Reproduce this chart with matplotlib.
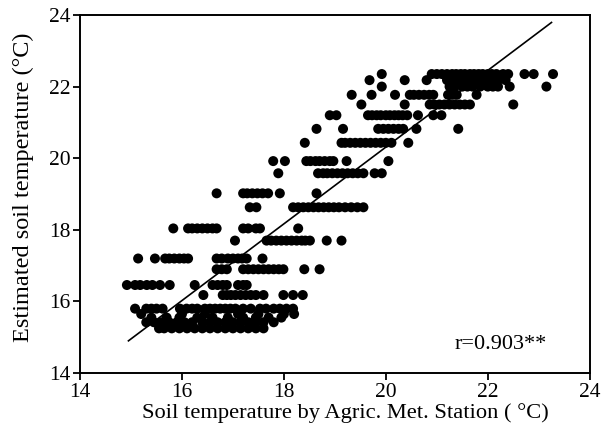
import numpy as np
import matplotlib
matplotlib.use('Agg')
import matplotlib.pyplot as plt

plt.rcParams['font.family'] = ['Liberation Serif', 'DejaVu Serif']

# estimated soil temperature levels (rows) and station readings per row
row_est = [22.35, 22.18, 22.0, 21.77, 21.5, 21.2, 20.82, 20.43, 19.92, 19.58,
           19.02, 18.63, 18.04, 17.7, 17.2, 16.9, 16.46, 16.18, 15.8, 15.65,
           15.55, 15.42, 15.25]
row_station = [
    [19.92, 20.9, 21.0, 21.1, 21.2, 21.3, 21.38, 21.47, 21.55, 21.65, 21.73,
     21.82, 21.9, 22.0, 22.08, 22.17, 22.3, 22.4, 22.72, 22.9, 23.28],
    [19.68, 20.37, 20.8, 21.2, 21.3, 21.45, 21.55, 21.65, 21.78, 21.9, 22.05,
     22.2, 22.35],
    [19.92, 21.25, 21.35, 21.5, 21.6, 21.7, 21.85, 22.0, 22.1, 22.2, 22.43, 23.15],
    [19.33, 19.72, 20.18, 20.47, 20.55, 20.65, 20.75, 20.85, 20.93, 21.22, 21.3,
     21.39, 21.78],
    [19.52, 20.37, 20.86, 20.95, 21.05, 21.15, 21.25, 21.35, 21.45, 21.55, 21.65,
     22.5],
    [18.9, 19.03, 19.65, 19.73, 19.82, 19.9, 20.0, 20.08, 20.17, 20.25, 20.33,
     20.42, 20.63, 20.93, 21.09],
    [18.64, 19.16, 19.85, 19.95, 20.05, 20.15, 20.25, 20.34, 20.6, 21.42],
    [18.41, 19.13, 19.2, 19.3, 19.4, 19.5, 19.6, 19.7, 19.8, 19.9, 20.0, 20.11,
     20.44],
    [17.79, 18.02, 18.44, 18.52, 18.62, 18.7, 18.8, 18.9, 18.97, 19.23, 20.05],
    [17.89, 18.67, 18.77, 18.85, 18.95, 19.05, 19.15, 19.25, 19.35, 19.45, 19.56,
     19.78, 19.92],
    [16.68, 17.2, 17.28, 17.38, 17.48, 17.58, 17.69, 17.92, 18.64],
    [17.33, 17.46, 18.18, 18.28, 18.38, 18.48, 18.58, 18.68, 18.78, 18.88, 18.98,
     19.08, 19.2, 19.32, 19.44, 19.56],
    [15.83, 16.12, 16.2, 16.3, 16.4, 16.5, 16.6, 16.68, 17.2, 17.3, 17.45, 17.53,
     18.28],
    [17.04, 17.66, 17.75, 17.85, 17.95, 18.05, 18.15, 18.25, 18.35, 18.42, 18.51,
     18.84, 19.13],
    [15.14, 15.47, 15.67, 15.75, 15.85, 15.95, 16.04, 16.12, 16.68, 16.78, 16.9,
     17.0, 17.1, 17.18, 17.27, 17.58],
    [16.68, 16.78, 16.88, 17.2, 17.3, 17.4, 17.5, 17.6, 17.7, 17.8, 17.9, 17.99,
     18.4, 18.7],
    [14.92, 15.08, 15.18, 15.31, 15.42, 15.57, 15.76, 16.25, 16.6, 16.7, 16.8,
     16.88, 17.1, 17.2, 17.27],
    [16.42, 16.8, 16.88, 16.96, 17.05, 17.15, 17.25, 17.35, 17.45, 17.6, 17.99,
     18.18, 18.37],
    [15.08, 15.3, 15.4, 15.5, 15.62, 15.96, 16.09, 16.2, 16.3, 16.45, 16.55, 16.65,
     16.75, 16.85, 16.95, 17.05, 17.2, 17.35, 17.53, 17.65, 17.8, 17.92, 18.05,
     18.18],
    [15.2, 16.0, 16.45, 17.1, 17.5, 18.0, 18.2],
    [15.4, 15.7, 15.95, 16.3, 16.6, 16.9, 17.2, 17.45, 17.7, 17.95],
    [15.3, 15.45, 15.6, 15.75, 15.9, 16.05, 16.2, 16.4, 16.55, 16.7, 16.85, 17.0,
     17.15, 17.3, 17.45, 17.6, 17.8],
    [15.55, 15.65, 15.8, 15.95, 16.1, 16.25, 16.4, 16.55, 16.7, 16.85, 17.0, 17.15,
     17.3, 17.45, 17.6],
]

# regression line
fit_x = [14.95, 23.25]
fit_slope = 1.071
fit_icpt = -1.11
r_value = 0.903

station = [x for row in row_station for x in row]
estimated = [y for y, row in zip(row_est, row_station) for _ in row]

fig = plt.figure(figsize=(6.03, 4.40), dpi=100)
ax = fig.add_axes([0.1327, 0.152, 0.8453, 0.814])

ax.scatter(station, estimated, s=52, color='black', edgecolors='none', zorder=3)
fx = np.array(fit_x)
ax.plot(fx, fit_icpt + fit_slope * fx, color='black', lw=1.2, zorder=4)

ax.text(22.25, 14.8, f'r={r_value:.3f}**', ha='center', va='center', fontsize=16)

ax.set_xlim(14, 24)
ax.set_ylim(14, 24)
ax.set_xticks([14, 16, 18, 20, 22, 24])
ax.set_yticks([14, 16, 18, 20, 22, 24])
ax.tick_params(direction='out', length=5, width=1.3, labelsize=15.5, pad=2)
for sp in ax.spines.values():
    sp.set_linewidth(1.4)
ax.set_xlabel('Soil temperature by Agric. Met. Station ( °C)', fontsize=16.2)
ax.set_ylabel('Estimated soil temperature (°C)', fontsize=17.5)
ax.xaxis.set_label_coords(0.52, -0.085)
ax.yaxis.set_label_coords(-0.09, 0.52)

fig.savefig('out.png', dpi=100)
